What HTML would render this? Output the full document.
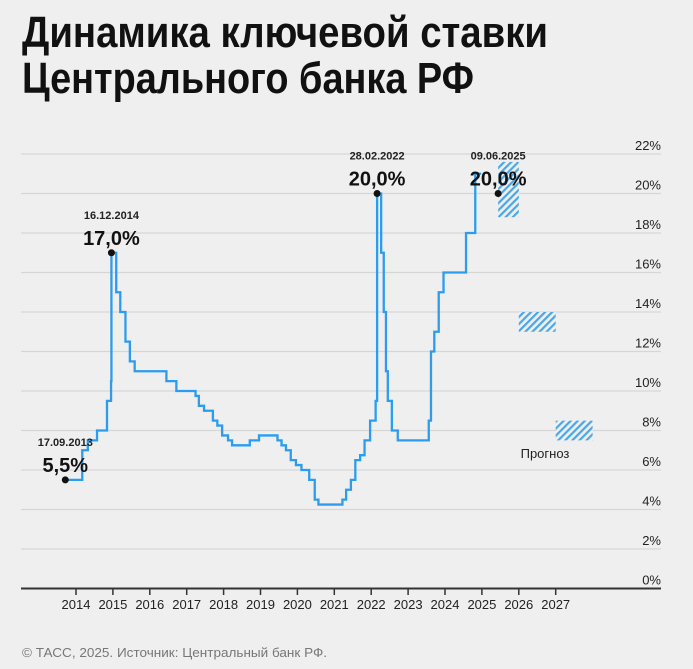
<!DOCTYPE html>
<html><head><meta charset="utf-8"><style>
html,body{margin:0;padding:0;background:#efefef;}
svg{display:block;font-family:"Liberation Sans Narrow","Liberation Sans",sans-serif;}
</style></head><body>
<svg id="chart" width="693" height="669" viewBox="0 0 693 669">
<defs>
<pattern id="hatch" width="5" height="5" patternUnits="userSpaceOnUse" patternTransform="rotate(45)">
<rect width="5" height="5" fill="#efefef"/><rect width="2.2" height="5" fill="#4aa8e8"/>
</pattern>
</defs>
<rect width="693" height="669" fill="#efefef"/>
<text x="22" y="47" font-size="44" font-weight="bold" fill="#111" textLength="526" lengthAdjust="spacingAndGlyphs">Динамика ключевой ставки</text>
<text x="22" y="93" font-size="44" font-weight="bold" fill="#111" textLength="452" lengthAdjust="spacingAndGlyphs">Центрального банка РФ</text>
<g id="grid"></g><g id="forecast"></g><g id="series"></g><g id="annot"></g>
<text x="22" y="657" font-size="13" fill="#777" textLength="305" lengthAdjust="spacingAndGlyphs">© ТАСС, 2025. Источник: Центральный банк РФ.</text>
</svg>
<script>
const yTicks=[0,2,4,6,8,10,12,14,16,18,20,22];
const years=[2014,2015,2016,2017,2018,2019,2020,2021,2022,2023,2024,2025,2026,2027];
const dates=[2013.71,2014.17,2014.32,2014.57,2014.84,2014.95,2014.96,2015.09,2015.2,2015.34,2015.46,2015.59,2016.45,2016.72,2017.24,2017.33,2017.47,2017.71,2017.83,2017.96,2018.12,2018.23,2018.71,2018.96,2019.46,2019.57,2019.69,2019.82,2019.96,2020.11,2020.32,2020.47,2020.57,2021.22,2021.32,2021.45,2021.57,2021.7,2021.82,2021.97,2022.12,2022.16,2022.27,2022.34,2022.4,2022.45,2022.56,2022.72,2023.56,2023.62,2023.71,2023.83,2023.96,2024.57,2024.82,2024.98];
const rates=[5.5,7.0,7.5,8.0,9.5,10.5,17.0,15.0,14.0,12.5,11.5,11.0,10.5,10.0,9.75,9.25,9.0,8.5,8.25,7.75,7.5,7.25,7.5,7.75,7.5,7.25,7.0,6.5,6.25,6.0,5.5,4.5,4.25,4.5,5.0,5.5,6.5,6.75,7.5,8.5,9.5,20.0,17.0,14.0,11.0,9.5,8.0,7.5,8.5,12.0,13.0,15.0,16.0,18.0,21.0,21.0];
const fcStart=[2025.44,2026,2027];
const fcEnd=[2026,2027,2028];
const fcLow=[18.8,13.0,7.5];
const fcHigh=[21.6,14.0,8.5];
const annDates=[2013.71,2014.96,2022.16,2025.44];
const annValues=[5.5,17.0,20.0,20.0];
const annLabels=["17.09.2013","16.12.2014","28.02.2022","09.06.2025"];
const annText=["5,5%","17,0%","20,0%","20,0%"];

const NS="http://www.w3.org/2000/svg";
const X=t=>76+(t-2014)*36.9;
const Y=v=>588.5-19.75*v;
function mk(tag,attrs,parent,txt){const e=document.createElementNS(NS,tag);for(const k in attrs)e.setAttribute(k,attrs[k]);if(txt!==undefined)e.textContent=txt;parent.appendChild(e);return e;}
const grid=document.getElementById('grid');
yTicks.forEach(v=>{
  const l=mk('line',{x1:21,x2:661,y1:Y(v),y2:Y(v),stroke:v===0?'#333':'#d6d6d6','stroke-width':v===0?2:1.2},grid);
  
  
  const t=mk('text',{x:661,y:Y(v)-4,'font-size':13,fill:'#222','text-anchor':'end'},grid,v+'%');
  
  
});
years.forEach(yr=>{
  const l=mk('line',{x1:X(yr),x2:X(yr),y1:589,y2:595,stroke:'#333','stroke-width':1.5},grid);
  
  
  const t=mk('text',{x:X(yr),y:609,'font-size':13,fill:'#222','text-anchor':'middle'},grid,String(yr));
  
  
});
const fc=document.getElementById('forecast');
fcStart.forEach((s,i)=>{
  const r=mk('rect',{x:X(s),y:Y(fcHigh[i]),width:X(fcEnd[i])-X(s),height:Y(fcLow[i])-Y(fcHigh[i]),fill:'url(#hatch)'},fc);
  
  
});
const pt=mk('text',{x:545,y:458,'font-size':13,fill:'#222','text-anchor':'middle'},fc,'Прогноз');


let d='';
for(let i=0;i<dates.length;i++){
  const x=X(dates[i]),y=Y(rates[i]);
  if(i===0)d+='M'+x+' '+y;else d+=' H'+x+' V'+y;
}
const p=mk('path',{d:d,fill:'none',stroke:'#2a9df0','stroke-width':2.3},document.getElementById('series'));


const an=document.getElementById('annot');
annDates.forEach((t,i)=>{
  const x=X(t),y=Y(annValues[i]);
  const c=mk('circle',{cx:x,cy:y,r:3.5,fill:'#111'},an);
  
  
  const v=mk('text',{x:x,y:y-8,'font-size':20,'font-weight':'bold',fill:'#111','text-anchor':'middle'},an,annText[i]);
  
  
  const l=mk('text',{x:x,y:y-34,'font-size':11,'font-weight':'bold',fill:'#222','text-anchor':'middle'},an,annLabels[i]);
  
  
});
</script>
</body></html>
